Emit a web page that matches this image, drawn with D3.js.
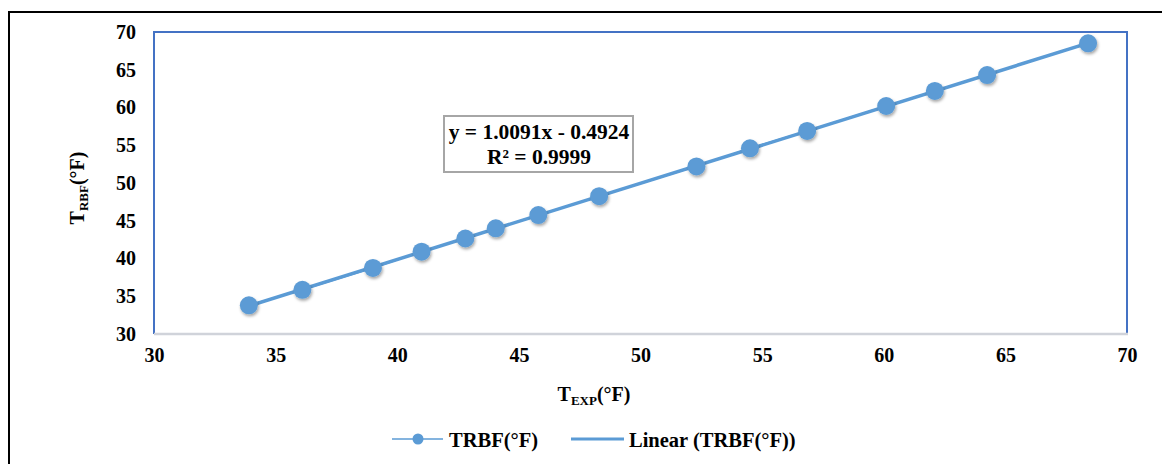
<!DOCTYPE html>
<html>
<head>
<meta charset="utf-8">
<script src="https://cdn.jsdelivr.net/npm/d3@7"></script>
<style>
  body { margin: 0; background: #fff; }
  text { font-family: "Liberation Serif", "Times New Roman", serif; font-weight: bold; fill: #000; }
</style>
</head>
<body>
<div id="chart"></div>
<script>
// measured vs predicted temperature
var texp = [33.9, 36.1, 39.0, 41.0, 42.8, 44.05, 45.8, 48.3, 52.3, 54.5, 56.85, 60.1, 62.1, 64.25, 68.4];
var trbf = [33.8, 35.85, 38.75, 40.9, 42.65, 44.0, 45.75, 48.25, 52.2, 54.6, 56.9, 60.2, 62.2, 64.3, 68.5];
var xTicks = [30, 35, 40, 45, 50, 55, 60, 65, 70];
var yTicks = [30, 35, 40, 45, 50, 55, 60, 65, 70];
var slope = 1.0091;
var intercept = -0.4924;
var eqLines = ["y = 1.0091x - 0.4924", "R² = 0.9999"];

var svgWidth = 1162;
var svgHeight = 464;

var margin = { top: 32, right: 35, bottom: 130, left: 154 };
var width = 1127 - margin.left;
var height = 334 - margin.top;

var svg = d3.select("#chart")
    .append("svg")
    .attr("width", svgWidth)
    .attr("height", svgHeight);

// drop shadow for markers
var defs = svg.append("defs");
var f = defs.append("filter").attr("id", "shadow")
    .attr("x", "-50%").attr("y", "-50%").attr("width", "200%").attr("height", "200%");
f.append("feDropShadow")
    .attr("dx", 1).attr("dy", 2).attr("stdDeviation", 1.5)
    .attr("flood-color", "#000").attr("flood-opacity", 0.35);

// outer frame
svg.append("rect")
    .attr("x", 9).attr("y", 12)
    .attr("width", svgWidth).attr("height", svgHeight)
    .attr("fill", "none")
    .attr("stroke", "#000")
    .attr("stroke-width", 2);

var chartGroup = svg.append("g")
    .attr("transform", `translate(${margin.left}, ${margin.top})`);

var x = d3.scaleLinear().domain([30, 70]).range([0, width]);
var y = d3.scaleLinear().domain([30, 70]).range([height, 0]);

// plot border
chartGroup.append("path")
    .attr("d", `M0,${height}V0H${width}V${height}`)
    .attr("fill", "none")
    .attr("stroke", "#4472C4")
    .attr("stroke-width", 2);
chartGroup.append("line")
    .attr("x1", 0).attr("x2", width + 1)
    .attr("y1", height).attr("y2", height)
    .attr("stroke", "#D0D3DA")
    .attr("stroke-width", 2.5);

// axes (labels only)
var bottomAxis = d3.axisBottom(x).tickValues(xTicks).tickSize(0).tickPadding(14);
var leftAxis = d3.axisLeft(y).tickValues(yTicks).tickSize(0).tickPadding(18);

var gx = chartGroup.append("g")
    .attr("transform", `translate(0, ${height})`)
    .call(bottomAxis);
var gy = chartGroup.append("g").call(leftAxis);
[gx, gy].forEach(function(g) {
    g.select(".domain").remove();
    g.selectAll("text")
        .attr("font-size", 20)
        .attr("font-family", "Liberation Serif, serif")
        .attr("font-weight", "bold")
        .attr("fill", "#000");
});

// series line (thin) and trendline
var line = d3.line().x(function(d) { return x(d[0]); }).y(function(d) { return y(d[1]); });
var pts = texp.map(function(v, i) { return [v, trbf[i]]; });

chartGroup.append("path")
    .datum(pts)
    .attr("d", line)
    .attr("fill", "none")
    .attr("stroke", "#5B9BD5")
    .attr("stroke-width", 1.5);

var xmin = d3.min(texp), xmax = d3.max(texp);
chartGroup.append("path")
    .datum([[xmin, slope * xmin + intercept], [xmax, slope * xmax + intercept]])
    .attr("d", line)
    .attr("fill", "none")
    .attr("stroke", "#5B9BD5")
    .attr("stroke-width", 3.5);

chartGroup.selectAll(".dot")
    .data(pts)
    .enter()
    .append("circle")
    .attr("cx", function(d) { return x(d[0]); })
    .attr("cy", function(d) { return y(d[1]); })
    .attr("r", 9)
    .attr("fill", "#5B9BD5")
    .attr("filter", "url(#shadow)");

// equation box
svg.append("rect")
    .attr("x", 444).attr("y", 116)
    .attr("width", 189).attr("height", 56)
    .attr("fill", "#fff")
    .attr("stroke", "#A6A6A6")
    .attr("stroke-width", 2);
svg.selectAll(".eq")
    .data(eqLines)
    .enter()
    .append("text")
    .attr("x", 539)
    .attr("y", function(d, i) { return 139 + i * 25; })
    .attr("text-anchor", "middle")
    .attr("font-size", 21.5)
    .text(function(d) { return d; });

// axis titles
var xt = svg.append("text")
    .attr("x", 594).attr("y", 401)
    .attr("text-anchor", "middle")
    .attr("font-size", 20);
xt.append("tspan").text("T");
xt.append("tspan").attr("font-size", 13).attr("dy", 4).text("EXP");
xt.append("tspan").attr("dy", -4).text("(°F)");

var yt = svg.append("text")
    .attr("transform", "translate(84, 188) rotate(-90)")
    .attr("text-anchor", "middle")
    .attr("font-size", 20);
yt.append("tspan").text("T");
yt.append("tspan").attr("font-size", 13).attr("dy", 4).text("RBF");
yt.append("tspan").attr("dy", -4).text("(°F)");

// legend
var lg = svg.append("g");
lg.append("line")
    .attr("x1", 392).attr("x2", 443).attr("y1", 439).attr("y2", 439)
    .attr("stroke", "#5B9BD5").attr("stroke-width", 1.5);
lg.append("circle")
    .attr("cx", 418).attr("cy", 439).attr("r", 5.5)
    .attr("fill", "#5B9BD5");
lg.append("text")
    .attr("x", 449).attr("y", 447)
    .attr("font-size", 20.5)
    .text("TRBF(°F)");
lg.append("line")
    .attr("x1", 571).attr("x2", 624).attr("y1", 439).attr("y2", 439)
    .attr("stroke", "#5B9BD5").attr("stroke-width", 3);
lg.append("text")
    .attr("x", 629).attr("y", 447)
    .attr("font-size", 20.5)
    .text("Linear (TRBF(°F))");
</script>
</body>
</html>
